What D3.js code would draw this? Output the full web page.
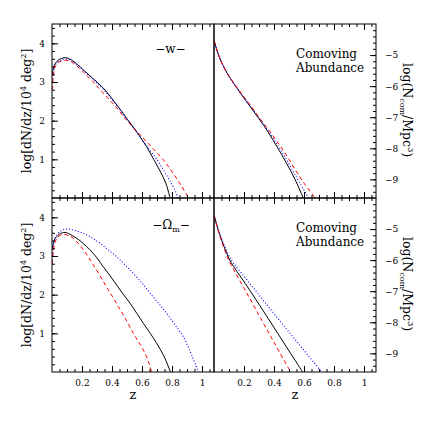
<!DOCTYPE html>
<html>
<head>
<meta charset="utf-8">
<script src="https://cdn.jsdelivr.net/npm/d3@7"></script>
<style>
  body { margin: 0; background: #fff; }
  svg { display: block; }
  text { font-family: "DejaVu Serif", serif; fill: #000; }
</style>
</head>
<body>
<div id="my_dataviz"></div>
<script>
// tick labels
var zTicks = [0.2, 0.4, 0.6, 0.8, 1];
var dndzTicks = [1, 2, 3, 4];
var ncomTicks = [-5, -6, -7, -8, -9];

// top left: log dN/dz vs z, varying w   [z, value]
var wDndzBlack = [[0.003,3.2],[0.01,3.38],[0.02,3.47],[0.04,3.56],[0.065,3.61],[0.09,3.63],[0.13,3.57],[0.17,3.45],[0.21,3.31],[0.27,3.1],[0.34,2.85],[0.42,2.47],[0.5,2.05],[0.57,1.68],[0.63,1.33],[0.678,1.0],[0.72,0.7],[0.76,0.37],[0.787,0.0]];
var wDndzBlue = [[0.003,3.0],[0.01,3.3],[0.02,3.43],[0.04,3.53],[0.07,3.58],[0.1,3.59],[0.13,3.55],[0.17,3.44],[0.21,3.3],[0.27,3.08],[0.34,2.82],[0.42,2.45],[0.5,2.03],[0.57,1.67],[0.63,1.35],[0.698,1.0],[0.75,0.68],[0.8,0.35],[0.842,0.0]];
var wDndzRed = [[0.003,2.8],[0.01,3.2],[0.02,3.38],[0.04,3.5],[0.07,3.55],[0.1,3.56],[0.13,3.52],[0.17,3.4],[0.21,3.25],[0.27,3.02],[0.34,2.72],[0.42,2.38],[0.5,2.0],[0.56,1.75],[0.62,1.5],[0.68,1.25],[0.74,1.0],[0.8,0.68],[0.86,0.33],[0.91,0.0]];

// top right: log comoving abundance vs z, varying w
var wNcomBlack = [[0.002,-4.55],[0.02,-4.85],[0.04,-5.12],[0.06,-5.33],[0.09,-5.6],[0.13,-5.9],[0.18,-6.25],[0.24,-6.65],[0.3,-7.05],[0.36,-7.47],[0.42,-7.95],[0.48,-8.45],[0.54,-9.0],[0.595,-9.6]];
var wNcomBlue = [[0.002,-4.55],[0.02,-4.85],[0.04,-5.12],[0.06,-5.33],[0.09,-5.6],[0.13,-5.9],[0.18,-6.24],[0.24,-6.63],[0.3,-7.03],[0.36,-7.43],[0.42,-7.87],[0.48,-8.33],[0.54,-8.85],[0.6,-9.35],[0.63,-9.6]];
var wNcomRed = [[0.002,-4.55],[0.02,-4.85],[0.04,-5.12],[0.06,-5.33],[0.09,-5.6],[0.13,-5.89],[0.18,-6.22],[0.24,-6.6],[0.3,-7.0],[0.36,-7.38],[0.42,-7.78],[0.48,-8.2],[0.54,-8.68],[0.6,-9.12],[0.675,-9.6]];

// bottom left: log dN/dz vs z, varying Omega_m
var omDndzBlack = [[0.003,3.2],[0.01,3.35],[0.02,3.45],[0.031,3.5],[0.05,3.57],[0.087,3.61],[0.12,3.56],[0.164,3.46],[0.21,3.32],[0.253,3.16],[0.3,2.95],[0.342,2.72],[0.385,2.5],[0.431,2.25],[0.475,2.01],[0.52,1.78],[0.565,1.52],[0.609,1.26],[0.655,1.0],[0.698,0.74],[0.745,0.42],[0.79,0.0]];
var omDndzBlue = [[0.003,3.0],[0.01,3.3],[0.02,3.45],[0.04,3.58],[0.065,3.66],[0.09,3.7],[0.12,3.69],[0.16,3.65],[0.209,3.59],[0.265,3.47],[0.32,3.33],[0.375,3.16],[0.431,2.98],[0.487,2.77],[0.542,2.55],[0.6,2.3],[0.653,2.04],[0.71,1.78],[0.764,1.52],[0.82,1.22],[0.876,0.91],[0.93,0.45],[0.976,0.0]];
var omDndzRed = [[0.003,2.8],[0.01,3.15],[0.02,3.35],[0.04,3.5],[0.076,3.56],[0.11,3.53],[0.142,3.46],[0.175,3.33],[0.209,3.16],[0.243,2.97],[0.276,2.77],[0.31,2.56],[0.342,2.34],[0.375,2.13],[0.409,1.91],[0.442,1.69],[0.476,1.47],[0.509,1.24],[0.542,1.0],[0.575,0.79],[0.609,0.57],[0.64,0.3],[0.664,0.0]];

// bottom right: log comoving abundance vs z, varying Omega_m
var omNcomBlack = [[0.002,-4.57],[0.02,-4.9],[0.04,-5.2],[0.07,-5.6],[0.1,-5.95],[0.13,-6.2],[0.18,-6.55],[0.24,-6.98],[0.3,-7.42],[0.36,-7.87],[0.42,-8.32],[0.48,-8.77],[0.54,-9.22],[0.591,-9.6]];
var omNcomBlue = [[0.002,-4.57],[0.02,-4.88],[0.04,-5.17],[0.07,-5.55],[0.1,-5.87],[0.13,-6.1],[0.18,-6.4],[0.24,-6.76],[0.3,-7.12],[0.36,-7.48],[0.42,-7.84],[0.48,-8.2],[0.54,-8.55],[0.6,-8.9],[0.66,-9.26],[0.718,-9.6]];
var omNcomRed = [[0.002,-4.58],[0.02,-4.92],[0.04,-5.24],[0.07,-5.66],[0.1,-6.02],[0.14,-6.38],[0.2,-6.9],[0.26,-7.42],[0.32,-7.95],[0.38,-8.47],[0.44,-8.99],[0.511,-9.6]];

// frame edges
var xL = 52, xM = 214, xR = 376;
var yT = 24, yM = 198, yB = 372;

var svg = d3.select("#my_dataviz")
    .append("svg")
    .attr("width", 424)
    .attr("height", 424);

var fmtZ = function(d) { return d === 1 ? "1" : d3.format(".1f")(d); };
var fmtY = function(d) { return String(d).replace("-", "\u2212"); };
var noLabel = function() { return ""; };

// minor ticks
var zMinor = d3.range(1, 22).map(function(i) { return +(i * 0.05).toFixed(2); });
var dndzMinor = d3.range(1, 23).map(function(i) { return +(i * 0.2).toFixed(1); });
var ncomMinor = d3.range(1, 28).map(function(i) { return +(-9.6 + i * 0.2).toFixed(1); });

var styles = [
    { key: "black", color: "#000", dash: null, width: 1 },
    { key: "blue", color: "#0000ff", dash: "1,2", width: 1.1 },
    { key: "red", color: "#ff0000", dash: "4,3", width: 1 }
];

var panelId = 0;

// makeAxis returns a fresh d3 axis each call
function addAxis(g, makeAxis, tr, major, minor, fmt, pad) {
    g.append("g")
        .attr("transform", tr)
        .call(makeAxis().tickValues(minor).tickSize(-3).tickFormat(noLabel))
        .call(function(s) { s.select(".domain").remove(); });
    g.append("g")
        .attr("transform", tr)
        .call(makeAxis().tickValues(major).tickSize(-6).tickPadding(pad || 3).tickFormat(fmt || noLabel))
        .call(function(s) {
            s.select(".domain").remove();
            s.selectAll("text").attr("font-size", 9).attr("font-family", "DejaVu Serif").attr("fill", "#000");
        });
}

function drawPanel(opt) {
    var x = d3.scaleLinear().domain([0, 1.08]).range([opt.x0, opt.x1]);
    var y = d3.scaleLinear().domain(opt.yDomain).range([opt.y1, opt.y0]);
    var g = svg.append("g");
    var id = "clip" + (panelId++);

    g.append("clipPath").attr("id", id)
        .append("rect")
        .attr("x", opt.x0).attr("y", opt.y0)
        .attr("width", opt.x1 - opt.x0).attr("height", opt.y1 - opt.y0);

    var line = d3.line()
        .x(function(d) { return x(d[0]); })
        .y(function(d) { return y(d[1]); })
        .curve(d3.curveCatmullRom.alpha(0.5));

    styles.forEach(function(s) {
        g.append("path")
            .attr("clip-path", "url(#" + id + ")")
            .attr("d", line(opt.series[s.key]))
            .attr("fill", "none")
            .attr("stroke", s.color)
            .attr("stroke-width", s.width)
            .attr("stroke-dasharray", s.dash);
    });

    // ticks, all pointing inward
    addAxis(g, function() { return d3.axisTop(x); }, "translate(0," + opt.y0 + ")", zTicks, zMinor);
    addAxis(g, function() { return d3.axisBottom(x); }, "translate(0," + opt.y1 + ")", zTicks, zMinor,
        opt.xLabels ? fmtZ : null, 8);
    if (opt.left) {
        addAxis(g, function() { return d3.axisLeft(y); }, "translate(" + opt.x0 + ",0)", dndzTicks, dndzMinor, fmtY, 7);
    } else {
        addAxis(g, function() { return d3.axisRight(y); }, "translate(" + opt.x1 + ",0)", ncomTicks, ncomMinor, fmtY, 9);
    }

    g.append("rect")
        .attr("x", opt.x0).attr("y", opt.y0)
        .attr("width", opt.x1 - opt.x0).attr("height", opt.y1 - opt.y0)
        .attr("fill", "none")
        .attr("stroke", "#000")
        .attr("stroke-width", 1);
}

drawPanel({ x0: xL, x1: xM, y0: yT, y1: yM, yDomain: [0, 4.5], left: true, xLabels: false,
    series: { black: wDndzBlack, blue: wDndzBlue, red: wDndzRed } });
drawPanel({ x0: xM, x1: xR, y0: yT, y1: yM, yDomain: [-9.6, -4], left: false, xLabels: false,
    series: { black: wNcomBlack, blue: wNcomBlue, red: wNcomRed } });
drawPanel({ x0: xL, x1: xM, y0: yM, y1: yB, yDomain: [0, 4.5], left: true, xLabels: true,
    series: { black: omDndzBlack, blue: omDndzBlue, red: omDndzRed } });
drawPanel({ x0: xM, x1: xR, y0: yM, y1: yB, yDomain: [-9.6, -4], left: false, xLabels: true,
    series: { black: omNcomBlack, blue: omNcomBlue, red: omNcomRed } });

// panel labels
svg.append("text").attr("x", 170.5).attr("y", 53).attr("text-anchor", "middle")
    .attr("font-size", 12).text("\u2212w\u2212");
var om = svg.append("text").attr("x", 171).attr("y", 229).attr("text-anchor", "middle").attr("font-size", 12);
om.append("tspan").text("\u2212\u03a9");
om.append("tspan").attr("font-size", 8).attr("dy", 3).text("m");
om.append("tspan").attr("dy", -3).text("\u2212");

[0, 174].forEach(function(off) {
    svg.append("text").attr("x", 296).attr("y", 58 + off).attr("font-size", 12).text("Comoving");
    svg.append("text").attr("x", 296).attr("y", 71.5 + off).attr("font-size", 12).text("Abundance");

    // left axis title
    var t = svg.append("text")
        .attr("transform", "translate(31," + (111 + off) + ") rotate(-90)")
        .attr("text-anchor", "middle")
        .attr("font-size", 12.5);
    t.append("tspan").text("log[dN/dz/10");
    t.append("tspan").attr("font-size", 8).attr("dy", -5).text("4");
    t.append("tspan").attr("dy", 5).text(" deg");
    t.append("tspan").attr("font-size", 8).attr("dy", -5).text("2");
    t.append("tspan").attr("dy", 5).text("]");

    // right axis title
    var r = svg.append("text")
        .attr("transform", "translate(403," + (110 + off) + ") rotate(90)")
        .attr("text-anchor", "middle")
        .attr("font-size", 12.5);
    r.append("tspan").text("log(N");
    r.append("tspan").attr("font-size", 8).attr("dy", 3).text("com");
    r.append("tspan").attr("dy", -3).text("/Mpc");
    r.append("tspan").attr("font-size", 8).attr("dy", -5).text("3");
    r.append("tspan").attr("dy", 5).text(")");
});

// x axis titles
svg.append("text").attr("x", 133).attr("y", 399).attr("text-anchor", "middle").attr("font-size", 13).text("z");
svg.append("text").attr("x", 295).attr("y", 399).attr("text-anchor", "middle").attr("font-size", 13).text("z");
</script>
</body>
</html>
